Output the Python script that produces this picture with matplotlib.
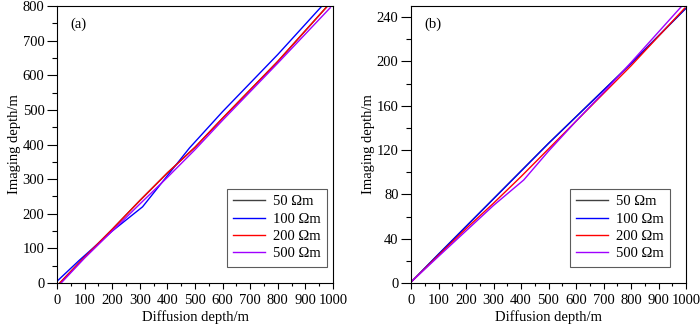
import numpy as np
import matplotlib
matplotlib.use("Agg")
import matplotlib.pyplot as plt
from matplotlib.ticker import MultipleLocator

plt.rcParams.update({
    "font.family": "Liberation Serif",
    "font.size": 10,
    "mathtext.fontset": "custom",
    "mathtext.rm": "Liberation Serif",
})

labels = ["50 Ωm", "100 Ωm", "200 Ωm", "500 Ωm"]
colors = ["#404040", "#0000ff", "#ff0000", "#a000ff"]

# panel (a) -- the 50 Ωm curve sits under the 200 Ωm one
a_x = [
    [10, 100, 200, 300, 400, 500, 600, 800, 980],
    [0, 80, 200, 310, 400, 480, 600, 800, 960],
    [10, 100, 200, 300, 400, 500, 600, 800, 980],
    [15, 100, 200, 300, 400, 500, 600, 800, 990],
]
a_y = [
    [0, 75, 155, 238, 318, 392, 476, 640, 800],
    [5, 65, 150, 220, 310, 390, 495, 660, 800],
    [0, 75, 155, 238, 318, 392, 476, 640, 800],
    [0, 72, 150, 228, 305, 385, 470, 635, 795],
]

# panel (b) -- the 50 Ωm curve sits under the 100 Ωm one
b_x = [
    [5, 100, 200, 300, 400, 500, 600, 700, 800, 1000],
    [5, 100, 200, 300, 400, 500, 600, 700, 800, 1000],
    [5, 100, 200, 300, 400, 500, 600, 700, 800, 995],
    [5, 100, 200, 300, 410, 500, 600, 700, 800, 985],
]
b_y = [
    [2, 26, 51, 76, 101, 126, 150, 174, 198, 248],
    [2, 26, 51, 76, 101, 126, 150, 174, 198, 248],
    [2, 25, 49, 72, 96, 121, 146, 171, 196, 248],
    [2, 24, 47, 70, 93, 119, 146, 172, 199, 250],
]

fig = plt.figure(figsize=(7.0, 3.27), dpi=100)
ax1 = fig.add_axes([57 / 700, 44 / 327, 276 / 700, 277 / 327])
ax2 = fig.add_axes([411 / 700, 44 / 327, 275 / 700, 277 / 327])

panels = [
    (ax1, a_x, a_y, "(a)", 800, 100, 50, 0.978),
    (ax2, b_x, b_y, "(b)", 250, 40, 20, 0.942),
]

for ax, xs, ys, tag, ytop, ymaj, ymin, legx in panels:
    for x, y, c, lab in zip(xs, ys, colors, labels):
        ax.plot(x, y, color=c, lw=1.0, label=lab)
    ax.set_xlim(0, 1000)
    ax.set_ylim(0, ytop)
    ax.xaxis.set_major_locator(MultipleLocator(100))
    ax.xaxis.set_minor_locator(MultipleLocator(50))
    ax.yaxis.set_major_locator(MultipleLocator(ymaj))
    ax.yaxis.set_minor_locator(MultipleLocator(ymin))
    ax.tick_params(axis="x", which="major", direction="out", length=4.5,
                   width=0.8, labelsize=10.5, pad=3.5)
    ax.tick_params(axis="x", which="minor", direction="out", length=2.5,
                   width=0.8)
    ax.tick_params(axis="y", which="major", direction="out", length=7,
                   width=0.8, labelsize=10.5, pad=2)
    ax.tick_params(axis="y", which="minor", direction="out", length=3.5,
                   width=0.8)
    ax.set_xlabel("Diffusion depth/m", fontsize=10.5, labelpad=2.5)
    ax.set_ylabel("Imaging depth/m", fontsize=10.5, labelpad=1)
    ax.text(0.05, 0.96, tag, transform=ax.transAxes, fontsize=10.5,
            va="top", ha="left")
    leg = ax.legend(loc="lower right", bbox_to_anchor=(legx, 0.058),
                    fontsize=10.5, frameon=True, fancybox=False,
                    handlelength=2.2, handletextpad=0.5, labelspacing=0.28,
                    borderpad=0.45, borderaxespad=0)
    leg.get_frame().set_edgecolor("#333333")
    leg.get_frame().set_linewidth(0.8)
    for s in ax.spines.values():
        s.set_linewidth(0.8)

fig.savefig("out.png", dpi=100)
